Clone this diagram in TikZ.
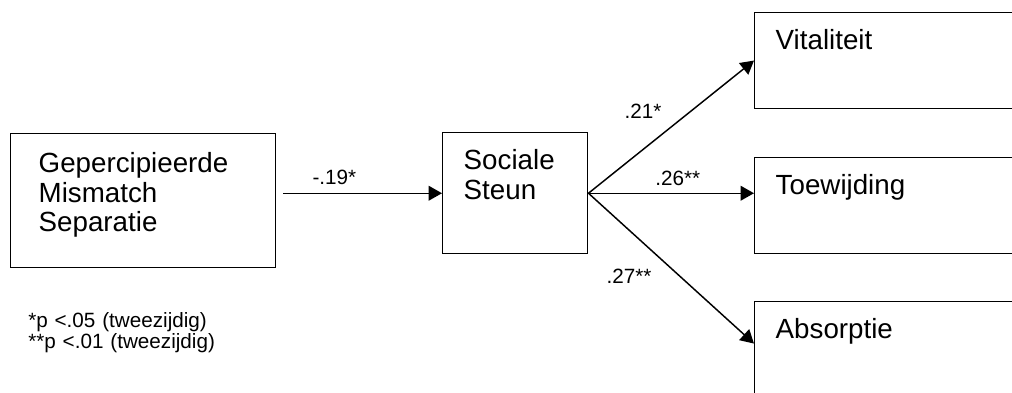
\documentclass[tikz,border=0pt]{standalone}
\usepackage{fontspec}
\setmainfont{Liberation Sans}
\usetikzlibrary{calc,arrows.meta,positioning}

\begin{document}
\begin{tikzpicture}[
x=0.75pt,y=-0.75pt,
>={Triangle[length=10pt,width=11pt]},
box/.style={
	draw,
	line width=1.1pt,
	anchor=north west,
	align=left,
	inner ysep=0pt,
	inner xsep=15.75pt,
	font=\fontsize{20.8pt}{22pt}\selectfont
},
path/.style={
	->,
	line width=1.1pt
},
coef/.style={
	inner sep=1pt,
	font=\fontsize{15.5pt}{16pt}\selectfont
}
]
\clip (0,0) rectangle (1012,392);

\node[box,inner xsep=21pt,text width=156.75pt,text height=29.25pt,text depth=71.25pt]
	(gms) at (10,133) {Gepercipieerde\\Mismatch\\Separatie};
\node[box,text width=77.25pt,text height=27.75pt,text depth=63pt]
	(ss) at (442,132) {Sociale\\Steun};

\foreach \n/\y/\t in {vit/12/Vitaliteit,toe/157/Toewijding,abs/301/Absorptie}
\node[box,text width=175.5pt,text height=27.75pt,text depth=44pt] (\n) at (754,\y) {\t};

\draw[path,shorten <=5pt] (gms.east |- ss.west) -- (ss.west)
	node[coef,pos=.35,above=5pt] {-.19*};
\draw[path] (ss.east) -- (vit.west)
	node[coef,pos=.33,above=22pt] {.21*};
\draw[path] (ss.east) -- (ss.east -| toe.west)
	node[coef,pos=.54,above=4pt] {.26**};
\draw[path] (ss.east) -- ([yshift=4.5pt]abs.west)
	node[coef,pos=.245,below=28pt] {.27**};

\node[anchor=base west,inner sep=0pt,align=left,text width=200pt,
	font=\fontsize{15.5pt}{16pt}\selectfont] (note) at (28,327)
	{*p <.05 (tweezijdig)\\{}**p <.01 (tweezijdig)};
\end{tikzpicture}
\end{document}
